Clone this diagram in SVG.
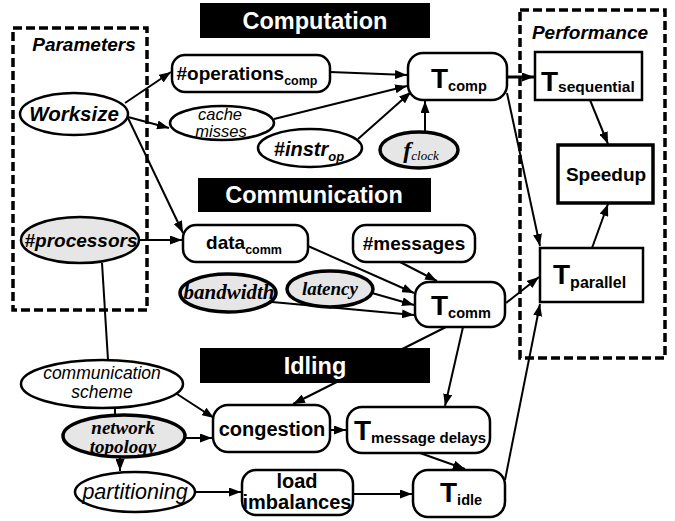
<svg xmlns="http://www.w3.org/2000/svg" width="675" height="521" viewBox="0 0 675 521">
  <style>
    .bg { fill: #ffffff; }
    .hdr { fill: #000000; }
    .hdrtxt { fill: #ffffff; font-family: "Liberation Sans", Arial, sans-serif; font-weight: bold; font-size: 23.5px; text-anchor: middle; }
    .grp { fill: none; stroke: #000; stroke-width: 3.5; stroke-dasharray: 9 4; }
    .grptxt { font-family: "Liberation Sans", Arial, sans-serif; font-weight: bold; font-style: italic; font-size: 19px; text-anchor: middle; }
    .rnd { fill: #fff; stroke: #000; stroke-width: 2.5; }
    .box { fill: #fff; stroke: #000; stroke-width: 2.5; }
    .ell { fill: #fff; stroke: #000; stroke-width: 2.5; }
    .gell { fill: #e6e6e6; stroke: #000; stroke-width: 3.5; }
    .lbl { font-family: "Liberation Sans", Arial, sans-serif; font-weight: bold; font-size: 19px; text-anchor: middle; fill: #000; }
    .sub { font-size: 12.5px; }
    .tt { font-family: "Liberation Sans", Arial, sans-serif; font-weight: bold; font-size: 28px; fill: #000; }
    .ts { font-size: 14.5px; }
    .it { font-family: "Liberation Sans", Arial, sans-serif; font-style: italic; font-size: 16.5px; text-anchor: middle; fill: #000; }
    .bit { font-family: "Liberation Sans", Arial, sans-serif; font-style: italic; font-weight: bold; text-anchor: middle; fill: #000; }
    .ser { font-family: "Liberation Serif", "Times New Roman", serif; font-style: italic; font-weight: bold; font-size: 19px; text-anchor: middle; fill: #000; }
    .edge { fill: none; stroke: #000; stroke-width: 2; }
    .arr { marker-end: url(#ah); }
  </style>
  <defs>
    <marker id="ah" viewBox="0 0 12 9" refX="12" refY="4.5" markerWidth="12" markerHeight="9" orient="auto" markerUnits="userSpaceOnUse">
      <path d="M0,0 L12,4.5 L0,9 z" fill="#000"/>
    </marker>
  </defs>

  <rect class="bg" x="0" y="0" width="675" height="521"/>

  <!-- section headers -->
  <g id="hdr-computation">
    <rect class="hdr" x="200" y="3" width="230" height="35"/>
    <text class="hdrtxt" x="315" y="29">Computation</text>
  </g>
  <g id="hdr-communication">
    <rect class="hdr" x="198" y="178" width="233" height="34"/>
    <text class="hdrtxt" x="314" y="203">Communication</text>
  </g>
  <g id="hdr-idling">
    <rect class="hdr" x="200" y="348" width="230" height="35"/>
    <text class="hdrtxt" x="315" y="374">Idling</text>
  </g>

  <!-- dashed groups -->
  <g id="grp-parameters">
    <rect class="grp" x="13" y="28" width="134" height="282"/>
    <text class="grptxt" x="84" y="51">Parameters</text>
  </g>
  <g id="grp-performance">
    <rect class="grp" x="520" y="10" width="145" height="348"/>
    <text class="grptxt" x="590" y="39">Performance</text>
  </g>

  <!-- connectors -->
  <g id="connectors">
    <line class="edge arr" x1="125" y1="103" x2="171" y2="72"/>
    <line class="edge arr" x1="128" y1="117" x2="169" y2="128"/>
    <line class="edge arr" x1="128" y1="118" x2="183" y2="233"/>
    <line class="edge arr" x1="330" y1="72" x2="407" y2="75"/>
    <line class="edge arr" x1="274" y1="119" x2="407" y2="86"/>
    <line class="edge arr" x1="358" y1="139" x2="411" y2="92"/>
    <line class="edge arr" x1="425" y1="132" x2="425" y2="101"/>
    <line class="edge arr" x1="507" y1="77" x2="534" y2="77" style="stroke-width:3"/>
    <line class="edge arr" x1="507" y1="93" x2="540" y2="246"/>
    <line class="edge arr" x1="590" y1="100" x2="608" y2="144"/>
    <line class="edge arr" x1="592" y1="248" x2="608" y2="204"/>
    <line class="edge arr" x1="140" y1="240" x2="182" y2="240"/>
    <line class="edge" x1="102" y1="263" x2="108" y2="360"/>
    <line class="edge arr" x1="308" y1="246" x2="414" y2="293"/>
    <line class="edge arr" x1="400" y1="262" x2="437" y2="281"/>
    <line class="edge arr" x1="372" y1="293" x2="414" y2="305"/>
    <line class="edge arr" x1="272" y1="302" x2="414" y2="315"/>
    <line class="edge arr" x1="506" y1="303" x2="539" y2="277"/>
    <line class="edge arr" x1="446" y1="327" x2="293" y2="404"/>
    <line class="edge arr" x1="463" y1="327" x2="445" y2="406"/>
    <line class="edge arr" x1="177" y1="394" x2="214" y2="418"/>
    <line class="edge" x1="115" y1="407" x2="115" y2="415"/>
    <line class="edge arr" x1="185" y1="438" x2="212" y2="438"/>
    <line class="edge arr" x1="120" y1="458" x2="120" y2="471"/>
    <line class="edge arr" x1="195" y1="492" x2="241" y2="492"/>
    <line class="edge arr" x1="330" y1="430" x2="346" y2="430"/>
    <line class="edge arr" x1="420" y1="453" x2="465" y2="469"/>
    <line class="edge arr" x1="353" y1="494" x2="412" y2="494"/>
    <line class="edge arr" x1="505" y1="480" x2="540" y2="304"/>
  </g>

  <!-- nodes -->
  <g id="n-worksize">
    <ellipse class="ell" cx="74" cy="114" rx="54" ry="21"/>
    <text class="bit" x="74" y="121" style="font-size:20.5px">Worksize</text>
  </g>
  <g id="n-processors">
    <ellipse class="ell" cx="80" cy="240" rx="59" ry="23" style="fill:#e6e6e6"/>
    <text class="bit" x="81" y="247" style="font-size:19px">#processors</text>
  </g>
  <g id="n-operations">
    <rect class="rnd" x="172" y="55" width="158" height="37" rx="13"/>
    <text class="lbl" x="247" y="80">#operations<tspan class="sub" dy="5">comp</tspan></text>
  </g>
  <g id="n-cache">
    <ellipse class="ell" cx="222" cy="123" rx="52" ry="17"/>
    <text class="it" x="220" y="120">cache</text>
    <text class="it" x="221" y="137">misses</text>
  </g>
  <g id="n-instr">
    <ellipse class="ell" cx="310" cy="148" rx="52" ry="19"/>
    <text class="bit" x="309" y="156" style="font-size:20px">#instr<tspan dy="5" style="font-size:13px">op</tspan></text>
  </g>
  <g id="n-fclock">
    <ellipse class="gell" cx="419" cy="150" rx="39" ry="18"/>
    <text x="421" y="158" style="font-family:'Liberation Serif','Times New Roman',serif;font-style:italic;text-anchor:middle"><tspan style="font-size:24px;font-weight:bold">f</tspan><tspan dy="2" style="font-size:13px">clock</tspan></text>
  </g>
  <g id="n-tcomp">
    <rect class="rnd" x="408" y="53" width="99" height="47" rx="15"/>
    <text class="tt" x="431" y="88">T<tspan class="ts" dy="3">comp</tspan></text>
  </g>
  <g id="n-tsequential">
    <rect class="box" x="535" y="52" width="107" height="48"/>
    <text class="tt" x="541" y="91">T<tspan class="ts" dy="1" style="font-size:15.5px">sequential</tspan></text>
  </g>
  <g id="n-speedup">
    <rect class="box" x="558" y="145" width="95" height="58" style="stroke-width:3.5"/>
    <text class="lbl" x="606" y="181">Speedup</text>
  </g>
  <g id="n-tparallel">
    <rect class="box" x="540" y="248" width="103" height="54"/>
    <text class="tt" x="553" y="284">T<tspan class="ts" dy="4" style="font-size:16px">parallel</tspan></text>
  </g>
  <g id="n-datacomm">
    <rect class="rnd" x="183" y="225" width="125" height="37" rx="13"/>
    <text class="lbl" x="244" y="249">data<tspan class="sub" dy="5">comm</tspan></text>
  </g>
  <g id="n-messages">
    <rect class="rnd" x="353" y="225" width="122" height="37" rx="13"/>
    <text class="lbl" x="414" y="250">#messages</text>
  </g>
  <g id="n-bandwidth">
    <ellipse class="gell" cx="228" cy="293" rx="48" ry="19"/>
    <text class="ser" x="229" y="299" style="font-size:21px">bandwidth</text>
  </g>
  <g id="n-latency">
    <ellipse class="gell" cx="330" cy="289" rx="43" ry="18"/>
    <text class="ser" x="330" y="295">latency</text>
  </g>
  <g id="n-tcomm">
    <rect class="rnd" x="415" y="282" width="90" height="45" rx="14"/>
    <text class="tt" x="431" y="315">T<tspan class="ts" dy="3">comm</tspan></text>
  </g>
  <g id="n-commscheme">
    <ellipse class="ell" cx="102" cy="384" rx="81" ry="24"/>
    <text class="it" x="102" y="379" style="font-size:17.5px">communication</text>
    <text class="it" x="102" y="398" style="font-size:17.5px">scheme</text>
  </g>
  <g id="n-topology">
    <ellipse class="gell" cx="124" cy="436" rx="61" ry="21"/>
    <text class="ser" x="123" y="434">network</text>
    <text class="ser" x="123" y="453">topology</text>
  </g>
  <g id="n-partitioning">
    <ellipse class="ell" cx="135" cy="492" rx="60" ry="20"/>
    <text class="it" x="135" y="499" style="font-size:21.5px">partitioning</text>
  </g>
  <g id="n-congestion">
    <rect class="rnd" x="213" y="405" width="117" height="47" rx="15"/>
    <text class="lbl" x="272" y="436" style="font-size:20px">congestion</text>
  </g>
  <g id="n-msgdelays">
    <rect class="rnd" x="347" y="407" width="143" height="46" rx="15"/>
    <text class="tt" x="354" y="440">T<tspan class="ts" dy="3" style="font-size:15px">message delays</tspan></text>
  </g>
  <g id="n-loadimb">
    <rect class="rnd" x="242" y="470" width="111" height="45" rx="14"/>
    <text class="lbl" x="297" y="488" style="font-size:20px">load</text>
    <text class="lbl" x="297" y="509" style="font-size:20px">imbalances</text>
  </g>
  <g id="n-tidle">
    <rect class="rnd" x="413" y="470" width="92" height="47" rx="15"/>
    <text class="tt" x="440" y="502">T<tspan class="ts" dy="3">idle</tspan></text>
  </g>
</svg>
